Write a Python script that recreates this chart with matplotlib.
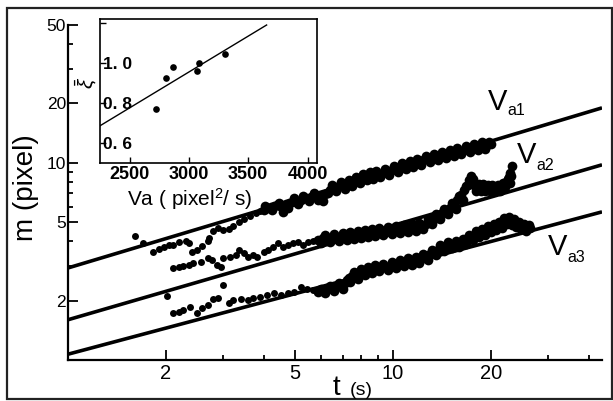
import matplotlib
matplotlib.use("Agg")
import matplotlib.pyplot as plt
from matplotlib.patches import Rectangle
from matplotlib.ticker import NullFormatter

plt.rcParams["font.family"] = "Liberation Sans"
plt.rcParams["mathtext.fontset"] = "custom"
plt.rcParams["mathtext.rm"] = "Liberation Sans"
plt.rcParams["mathtext.it"] = "Liberation Sans:italic"

# ---- data: m(t) for three runs (t in s, m in pixel) ----
# the first N_EARLY_* points of each run are the sparse early ones
t1 = [1.61, 1.70, 1.82, 1.90, 1.97, 2.04, 2.11, 2.20, 2.31, 2.36,
      2.41, 2.50, 2.59, 2.69, 2.72, 2.80, 2.90, 3.01, 3.12, 3.23,
      3.35, 3.47, 3.62, 3.78, 3.91,
      4.0, 4.05, 4.1, 4.2, 4.25, 4.3, 4.4, 4.45, 4.5, 4.6,
      4.7, 4.75, 4.8, 4.9, 4.95, 5.0, 5.1, 5.2, 5.3, 5.4,
      5.5, 5.6, 5.7, 5.8, 5.9, 6.0, 6.1, 6.2, 6.3, 6.4,
      6.5, 6.6, 6.7, 6.8, 6.9, 7.0, 7.1, 7.2, 7.3, 7.4,
      7.5, 7.6, 7.7, 7.8, 7.9, 8.0, 8.1, 8.2, 8.3, 8.4,
      8.5, 8.6, 8.7, 8.8, 8.9, 9.0, 9.15, 9.3, 9.45, 9.6,
      9.75, 9.9, 10.05, 10.2, 10.35, 10.5, 10.65, 10.8, 10.95, 11.1,
      11.25, 11.4, 11.55, 11.7, 11.85, 12.0, 12.2, 12.4, 12.6, 12.8,
      13.0, 13.2, 13.4, 13.6, 13.8, 14.0, 14.2, 14.4, 14.6, 14.8,
      15.0, 15.2, 15.4, 15.6, 15.8, 16.0, 16.25, 16.5, 16.75, 17.0,
      17.25, 17.5, 17.75, 18.0, 18.25, 18.5, 18.75, 19.0, 19.25, 19.5,
      19.75, 20.0]
m1 = [4.26, 3.93, 3.53, 3.66, 3.75, 3.83, 3.83, 3.97, 4.02, 3.93,
      3.53, 3.62, 3.79, 4.02, 4.16, 4.52, 4.68, 4.57, 4.62, 4.79,
      5.02, 5.20, 5.38, 5.58, 5.71,
      5.77, 6.05, 5.91, 5.98, 5.77, 6.05, 6.12, 6.27, 6.05, 5.64,
      6.19, 5.91, 6.27, 6.34, 6.64, 6.41, 6.19, 6.49, 6.80, 6.64,
      6.41, 6.72, 7.04, 6.80, 6.49, 6.72, 6.41, 6.96, 7.04, 7.29,
      7.73, 7.55, 7.21, 7.64, 8.01, 7.73, 7.38, 7.82, 8.20, 8.01,
      7.64, 8.10, 8.49, 8.20, 7.91, 8.39, 8.79, 8.49, 8.20, 8.59,
      9.00, 8.59, 8.29, 8.69, 9.11, 8.79, 8.49, 8.90, 9.32, 9.00,
      8.69, 9.21, 9.66, 9.32, 9.00, 9.54, 10.0, 9.66, 9.32, 9.77,
      10.24, 9.88, 9.54, 10.0, 10.48, 10.12, 9.77, 10.36, 10.85, 10.48,
      10.12, 10.60, 11.11, 10.73, 10.36, 10.85, 11.37, 10.98, 10.60, 11.11,
      11.64, 11.24, 10.85, 11.37, 11.92, 11.50, 11.11, 11.64, 12.20, 11.78,
      11.37, 11.92, 12.49, 12.06, 11.64, 12.20, 12.79, 12.20, 11.78, 12.34,
      12.79, 12.49]
N_EARLY_1 = 25

t2 = [2.11, 2.19, 2.26, 2.35, 2.43, 2.56, 2.69, 2.78, 2.88, 2.95,
      3.01, 3.16, 3.28, 3.35, 3.47, 3.59, 3.72, 3.83, 4.00, 4.14,
      4.26, 4.42, 4.58, 4.74, 4.91, 5.09, 5.28, 5.47, 5.67,
      5.9, 6.0, 6.1, 6.2, 6.3, 6.4, 6.5, 6.6, 6.7, 6.8,
      6.9, 7.0, 7.1, 7.2, 7.3, 7.4, 7.5, 7.6, 7.7, 7.8,
      7.9, 8.0, 8.1, 8.2, 8.3, 8.4, 8.5, 8.6, 8.7, 8.8,
      8.9, 9.05, 9.2, 9.35, 9.5, 9.65, 9.8, 9.95, 10.1, 10.25,
      10.4, 10.55, 10.7, 10.85, 11.0, 11.15, 11.3, 11.45, 11.6, 11.75,
      11.9, 12.05, 12.2, 12.4, 12.6, 12.8, 13.0, 13.2, 13.4, 13.6,
      13.8, 14.0, 14.2, 14.4, 14.6, 14.8, 15.0, 15.2, 15.4, 15.6,
      15.8, 16.0, 16.2, 16.4, 16.6, 16.8, 17.0, 17.15, 17.3, 17.45,
      17.6, 17.75, 17.9, 18.05, 18.2, 18.35, 18.5, 18.65, 18.8, 18.95,
      19.1, 19.25, 19.4, 19.55, 19.7, 19.85, 20.0, 20.2, 20.4, 20.6,
      20.8, 21.0, 21.2, 21.4, 21.6, 21.8, 22.0, 22.2, 22.4, 22.55,
      22.7, 22.85, 23.0, 23.15, 23.3]
m2 = [2.93, 2.97, 3.00, 3.03, 3.11, 3.14, 3.30, 3.22, 3.03, 2.97,
      3.30, 3.33, 3.41, 3.62, 3.49, 3.33, 3.41, 3.33, 3.53, 3.62,
      3.75, 3.93, 3.75, 3.83, 3.93, 3.97, 3.83, 3.97, 4.02,
      4.06, 3.93, 4.16, 4.31, 4.11, 3.97, 4.21, 4.36, 4.16, 4.02,
      4.26, 4.41, 4.21, 4.06, 4.31, 4.46, 4.26, 4.11, 4.36, 4.52,
      4.31, 4.16, 4.41, 4.57, 4.36, 4.21, 4.46, 4.62, 4.41, 4.26,
      4.46, 4.68, 4.52, 4.31, 4.46, 4.73, 4.57, 4.36, 4.52, 4.79,
      4.62, 4.41, 4.57, 4.85, 4.68, 4.46, 4.62, 4.90, 4.73, 4.52,
      4.68, 4.96, 4.79, 4.62, 4.90, 5.20, 5.08, 4.90, 5.20, 5.51,
      5.38, 5.20, 5.58, 5.84, 5.71, 5.51, 5.91, 6.27, 6.12, 5.84,
      6.49, 6.80, 6.88, 6.49, 7.29, 7.64, 7.73, 8.20, 8.01, 8.59,
      8.29, 7.91, 7.64, 7.21, 7.38, 7.82, 7.55, 7.21, 7.47, 7.82,
      7.64, 7.21, 7.47, 7.73, 7.55, 7.21, 7.38, 7.73, 7.47, 7.21,
      7.55, 7.73, 7.47, 7.21, 7.64, 7.91, 7.82, 7.55, 8.10, 8.29,
      8.49, 7.91, 8.90, 8.59, 9.66]
N_EARLY_2 = 29

t3 = [2.02, 3.01, 2.11, 2.19, 2.26, 2.38, 2.50, 2.59, 2.69, 2.80,
      2.90, 3.12, 3.23, 3.40, 3.57, 3.72, 3.91, 4.11, 4.29, 4.51,
      4.74, 4.95, 5.20, 5.43, 5.67,
      5.9, 6.0, 6.1, 6.2, 6.3, 6.4, 6.5, 6.6, 6.7, 6.8,
      6.9, 7.0, 7.1, 7.2, 7.3, 7.4, 7.5, 7.6, 7.7, 7.8,
      7.9, 8.0, 8.1, 8.2, 8.3, 8.4, 8.5, 8.6, 8.7, 8.8,
      8.9, 9.05, 9.2, 9.35, 9.5, 9.65, 9.8, 9.95, 10.1, 10.25,
      10.4, 10.55, 10.7, 10.85, 11.0, 11.15, 11.3, 11.45, 11.6, 11.75,
      11.9, 12.05, 12.2, 12.4, 12.6, 12.8, 13.0, 13.2, 13.4, 13.6,
      13.8, 14.0, 14.2, 14.4, 14.6, 14.8, 15.0, 15.2, 15.4, 15.6,
      15.8, 16.0, 16.2, 16.4, 16.6, 16.8, 17.0, 17.2, 17.4, 17.6,
      17.8, 18.0, 18.2, 18.4, 18.6, 18.8, 19.0, 19.2, 19.4, 19.6,
      19.8, 20.0, 20.2, 20.4, 20.6, 20.8, 21.0, 21.2, 21.4, 21.6,
      21.8, 22.0, 22.2, 22.4, 22.6, 22.8, 23.0, 23.2, 23.4, 23.6,
      23.8, 24.0, 24.2, 24.4, 24.6, 24.8, 25.0, 25.25, 25.5, 25.75,
      26.0, 26.25, 26.5]
m3 = [2.11, 2.40, 1.73, 1.75, 1.79, 1.86, 1.73, 1.84, 1.90, 2.04,
      2.06, 1.95, 2.02, 2.04, 2.02, 2.06, 2.09, 2.14, 2.19, 2.14,
      2.19, 2.21, 2.35, 2.29, 2.27,
      2.21, 2.29, 2.27, 2.19, 2.29, 2.37, 2.32, 2.24, 2.35, 2.46,
      2.37, 2.29, 2.46, 2.55, 2.61, 2.49, 2.67, 2.80, 2.70, 2.58,
      2.76, 2.90, 2.80, 2.70, 2.83, 2.97, 2.86, 2.76, 2.90, 3.03,
      2.93, 2.83, 2.93, 3.07, 2.97, 2.86, 3.00, 3.14, 3.03, 2.93,
      3.07, 3.22, 3.11, 3.00, 3.14, 3.30, 3.14, 3.03, 3.18, 3.33,
      3.22, 3.11, 3.26, 3.45, 3.33, 3.22, 3.45, 3.62, 3.53, 3.41,
      3.62, 3.83, 3.70, 3.58, 3.79, 3.97, 3.83, 3.70, 3.83, 4.02,
      3.88, 3.75, 3.93, 4.11, 3.97, 3.88, 4.06, 4.31, 4.16, 4.06,
      4.26, 4.52, 4.31, 4.21, 4.36, 4.62, 4.46, 4.31, 4.52, 4.79,
      4.57, 4.46, 4.62, 4.90, 4.68, 4.57, 4.73, 5.02, 4.79, 4.68,
      4.90, 5.26, 5.08, 4.90, 5.13, 5.32, 5.08, 4.85, 5.02, 5.20,
      4.96, 4.73, 4.90, 5.02, 4.79, 4.62, 4.73, 4.90, 4.73, 4.52,
      4.68, 4.85, 4.68]
N_EARLY_3 = 25

# power-law fits, given by their end points (t = 1 and t = 44)
fit_t = [1.0, 44.0]
fit1 = [2.93, 19.0]
fit2 = [1.60, 9.77]
fit3 = [1.07, 5.64]

x_major = [2, 5, 10, 20]
x_minor = [3, 4, 6, 7, 8, 9, 30, 40]
y_major = [2, 5, 10, 20, 50]
y_minor = [3, 4, 6, 7, 8, 9, 30, 40]

# inset: mean xi versus Va
va = [2720, 2810, 2865, 3065, 3085, 3300]
xi = [0.77, 0.925, 0.98, 0.96, 1.00, 1.045]
va_fit = [2247, 3655]
xi_fit = [0.685, 1.19]
va_ticks = [2500, 3000, 3500, 4000]
xi_ticks = [0.6, 0.8, 1.0, 1.2]
xi_labels = ["0. 6", "0. 8", "1. 0", ""]

W, H = 613, 401


def fx(x):
    return x / W


def fy(y):
    return 1 - y / H


fig = plt.figure(figsize=(W / 100, H / 100), dpi=100)

# ---- main panel ----
ax = fig.add_axes([fx(68), fy(360), fx(602) - fx(68), fy(25) - fy(360)])
ax.set_xscale("log")
ax.set_yscale("log")

for fit in (fit1, fit2, fit3):
    ax.plot(fit_t, fit, color="black", lw=2.6, solid_capstyle="butt", zorder=2)
for t, m, n in ((t1, m1, N_EARLY_1), (t2, m2, N_EARLY_2), (t3, m3, N_EARLY_3)):
    ax.plot(t[:n], m[:n], "o", color="black", ms=5, mew=0, zorder=3)
    ax.plot(t[n:], m[n:], "o", color="black", ms=7, mew=0, zorder=3)

ax.set_xlim(1, 44)
ax.set_ylim(1, 50)
ax.set_xticks(x_major, labels=[str(v) for v in x_major])
ax.set_xticks(x_minor, minor=True)
ax.set_yticks(y_major, labels=[str(v) for v in y_major])
ax.set_yticks(y_minor, minor=True)
ax.xaxis.set_minor_formatter(NullFormatter())
ax.yaxis.set_minor_formatter(NullFormatter())
ax.tick_params(which="both", direction="in", width=1.3)
ax.tick_params(which="major", length=7)
ax.tick_params(which="minor", length=3.5)
ax.tick_params(axis="x", labelsize=14.5, pad=3)
ax.tick_params(axis="y", labelsize=12.5, pad=1.5)
for s in ("top", "right"):
    ax.spines[s].set_visible(False)
for s in ("left", "bottom"):
    ax.spines[s].set_linewidth(1.6)

fig.text(fx(26), fy(188), "m (pixel)", rotation=90, fontsize=20,
         ha="center", va="center")
fig.text(fx(333), fy(395), "t", fontsize=20, va="baseline")
fig.text(fx(350), fy(395), "(s)", fontsize=14, va="baseline")

# curve labels
for xv, yv, xs, ys, sub in ((488, 110, 507, 115, "a1"),
                            (517, 163, 536, 170, "a2"),
                            (548, 255, 567, 262, "a3")):
    fig.text(fx(xv), fy(yv), "V", fontsize=21, va="baseline")
    fig.text(fx(xs), fy(ys), sub, fontsize=11.5, va="baseline")

# ---- inset ----
ins = fig.add_axes([fx(100), fy(163), fx(317) - fx(100), fy(19) - fy(163)])
ins.plot(va_fit, xi_fit, color="black", lw=1.0)
ins.plot(va, xi, "o", color="black", ms=4.8, mew=0)
ins.set_xlim(2250, 4080)
ins.set_ylim(0.5, 1.22)
ins.set_xticks(va_ticks, labels=[str(v) for v in va_ticks])
ins.set_yticks(xi_ticks, labels=xi_labels)
ins.tick_params(which="both", direction="in", length=4, width=1.0)
ins.tick_params(axis="x", labelsize=13, pad=2.5)
ins.tick_params(axis="y", labelsize=12.5, pad=-2)
for lab in ins.get_xticklabels() + ins.get_yticklabels():
    lab.set_fontweight("bold")
for lab in ins.get_yticklabels():
    lab.set_horizontalalignment("left")
for s in ins.spines.values():
    s.set_linewidth(1.2)

fig.text(fx(86), fy(83), r"$\bar{\xi}$", rotation=90, fontsize=15,
         ha="center", va="center")
fig.text(fx(190), fy(206), "Va ( pixel$^2$/ s)", fontsize=15,
         ha="center", va="baseline")

# outer frame
fig.add_artist(Rectangle((fx(7), fy(399)), fx(612) - fx(7), fy(8) - fy(399),
                         transform=fig.transFigure, fill=False,
                         lw=1.6, ec="#222222"))

fig.savefig("out.png", dpi=100)
